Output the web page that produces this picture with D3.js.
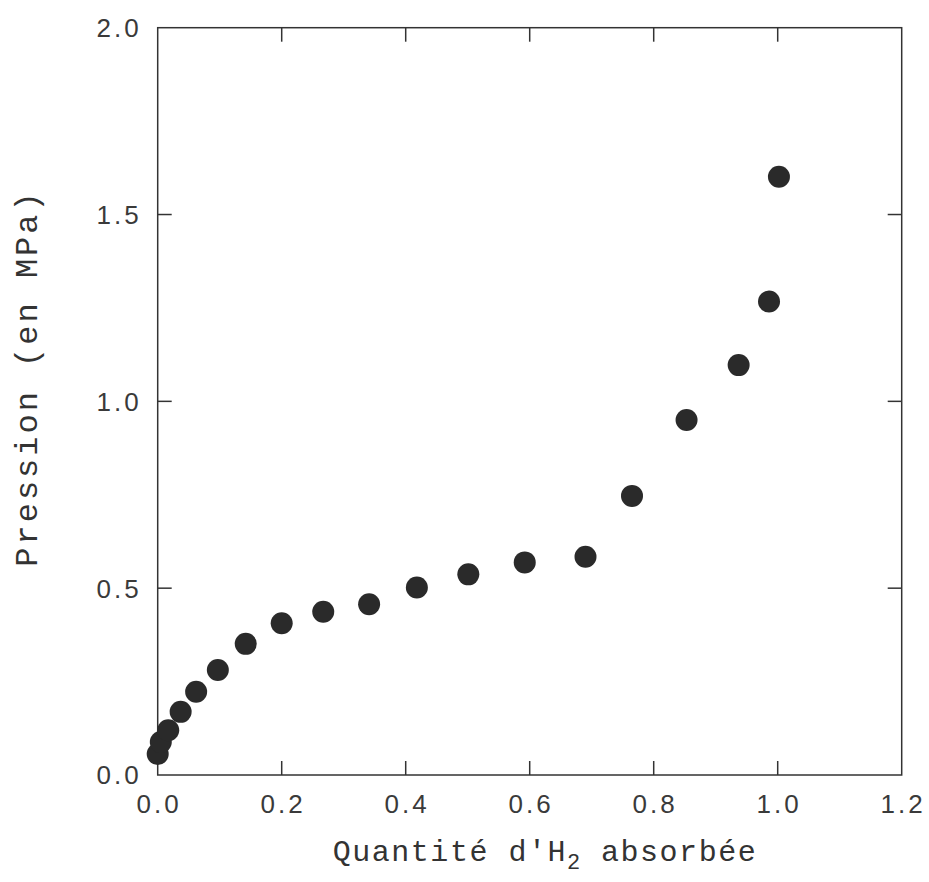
<!DOCTYPE html>
<html>
<head>
<meta charset="utf-8">
<script src="https://cdn.jsdelivr.net/npm/d3@7"></script>
<style>
  html, body { margin: 0; padding: 0; background: #fff; }
  svg { display: block; }
  .tick-label { font-family: 'Liberation Sans', sans-serif; font-size: 26px; letter-spacing: 3px; fill: #3a3a3a; }
  .axis-title { font-family: 'Liberation Mono', monospace; fill: #333; }
</style>
</head>
<body>
<svg id="chart" width="929" height="882"></svg>
<script>
// absorbed H2 amount vs pressure (MPa)
const quantite = [0.000, 0.005, 0.017, 0.037, 0.062, 0.097, 0.142, 0.200, 0.267, 0.341,
                  0.418, 0.501, 0.592, 0.690, 0.765, 0.853, 0.937, 0.986, 1.002];
const pression = [0.056, 0.088, 0.120, 0.169, 0.223, 0.281, 0.351, 0.406, 0.437, 0.457,
                  0.502, 0.537, 0.569, 0.584, 0.747, 0.950, 1.097, 1.267, 1.601];

const xTicks = [0.0, 0.2, 0.4, 0.6, 0.8, 1.0, 1.2];
const yTicks = [0.0, 0.5, 1.0, 1.5, 2.0];

const width = 929, height = 882;
const margin = { top: 27.7, right: 27.3, bottom: 107, left: 157.7 };

const svg = d3.select('#chart');

const x = d3.scaleLinear().domain([0, 1.2]).range([margin.left, width - margin.right]);
const y = d3.scaleLinear().domain([0, 2.0]).range([height - margin.bottom, margin.top]);

const tickLen = 14;
const fmt = d3.format('.1f');

// inner ticks on all four sides
const g = svg.append('g').attr('stroke', '#333').attr('stroke-width', 1.5);

g.selectAll('.xt-bottom')
  .data(xTicks.slice(1, -1))
  .join('line')
  .attr('x1', (d) => x(d)).attr('x2', (d) => x(d))
  .attr('y1', y(0)).attr('y2', y(0) - tickLen);

g.selectAll('.xt-top')
  .data(xTicks.slice(1, -1))
  .join('line')
  .attr('class', 'xt-top')
  .attr('x1', (d) => x(d)).attr('x2', (d) => x(d))
  .attr('y1', y(2)).attr('y2', y(2) + tickLen);

g.selectAll('.yt-left')
  .data(yTicks.slice(1, -1))
  .join('line')
  .attr('class', 'yt-left')
  .attr('x1', x(0)).attr('x2', x(0) + tickLen)
  .attr('y1', (d) => y(d)).attr('y2', (d) => y(d));

g.selectAll('.yt-right')
  .data(yTicks.slice(1, -1))
  .join('line')
  .attr('class', 'yt-right')
  .attr('x1', x(1.2)).attr('x2', x(1.2) - tickLen)
  .attr('y1', (d) => y(d)).attr('y2', (d) => y(d));

// frame
svg.append('rect')
  .attr('x', x(0)).attr('y', y(2))
  .attr('width', x(1.2) - x(0)).attr('height', y(0) - y(2))
  .attr('fill', 'none').attr('stroke', '#333').attr('stroke-width', 1.5);

// tick labels
svg.selectAll('.xl')
  .data(xTicks)
  .join('text')
  .attr('class', 'tick-label')
  .attr('x', (d) => x(d) + 1.5)
  .attr('y', y(0) + 38)
  .attr('text-anchor', 'middle')
  .text(fmt);

svg.selectAll('.yl')
  .data(yTicks)
  .join('text')
  .attr('class', 'tick-label')
  .attr('x', x(0) - 16)
  .attr('y', (d) => y(d))
  .attr('dy', '0.36em')
  .attr('text-anchor', 'end')
  .text(fmt);

// points
svg.append('g')
  .selectAll('circle')
  .data(quantite.map((q, i) => ({ q, p: pression[i] })))
  .join('circle')
  .attr('cx', (d) => x(d.q))
  .attr('cy', (d) => y(d.p))
  .attr('r', 11)
  .attr('fill', '#2a2a2a');

// axis titles
const xt = svg.append('text')
  .attr('class', 'axis-title')
  .attr('x', 545)
  .attr('y', 861)
  .attr('text-anchor', 'middle')
  .style('font-size', '30px')
  .style('letter-spacing', '1.5px');
xt.append('tspan').text("Quantité d'H");
xt.append('tspan').attr('dy', 8).style('font-size', '22px').text('2');
xt.append('tspan').attr('dy', -8).text(' absorbée');

svg.append('text')
  .attr('class', 'axis-title')
  .attr('transform', `translate(37, ${378}) rotate(-90)`)
  .attr('text-anchor', 'middle')
  .style('font-size', '32px')
  .style('letter-spacing', '3px')
  .text('Pression (en MPa)');
</script>
</body>
</html>
